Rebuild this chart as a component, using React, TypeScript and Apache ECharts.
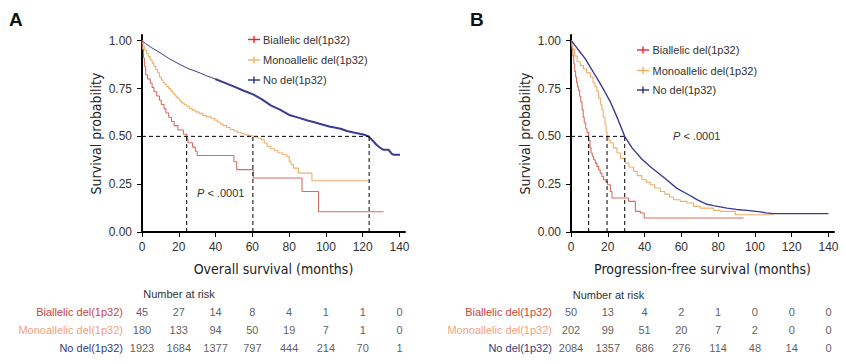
import React, { useEffect, useRef } from "react";
import * as echarts from "echarts";

// ---------- data ----------
const groups = ["Biallelic del(1p32)", "Monoallelic del(1p32)", "No del(1p32)"];
const xTicks = [0, 20, 40, 60, 80, 100, 120, 140];
const yTicks = [0, 0.25, 0.5, 0.75, 1];

// Overall survival (panel A)
const osBi: number[][] = [
  [0, 1], [0.3, 0.956], [0.8, 0.911], [1.3, 0.867], [2, 0.822], [3, 0.8], [4.5, 0.778], [5.5, 0.756],
  [6.5, 0.733], [8, 0.711], [9.5, 0.689], [10.5, 0.667], [12, 0.644], [13, 0.622], [14.5, 0.6],
  [16, 0.578], [17.5, 0.556], [19.5, 0.533], [22.5, 0.511], [24.3, 0.489], [25, 0.467], [27.5, 0.444],
  [29, 0.422], [30, 0.4], [50, 0.367], [51.5, 0.326], [60.5, 0.282], [87, 0.212], [96, 0.106], [131.3, 0.106],
];
const osMono: number[][] = [
  [0, 1], [0.5, 0.983], [1, 0.967], [1.5, 0.95], [2.5, 0.933], [3.5, 0.917], [4.5, 0.9], [5.5, 0.883],
  [6.5, 0.866], [7.5, 0.85], [8.5, 0.833], [9.5, 0.81], [10.5, 0.795], [11.5, 0.78], [12.5, 0.77],
  [13.5, 0.76], [14.5, 0.75], [15.5, 0.74], [16.5, 0.728], [17.5, 0.716], [18.5, 0.705], [19.5, 0.695],
  [20.5, 0.685], [21.5, 0.675], [23, 0.665], [24.5, 0.655], [26, 0.645], [27.5, 0.637], [29, 0.628],
  [31, 0.62], [33, 0.61], [35, 0.602], [37.5, 0.595], [39.5, 0.585], [41, 0.575], [42.5, 0.565],
  [44, 0.556], [46, 0.546], [48, 0.536], [50, 0.528], [52, 0.52], [54, 0.514], [56, 0.508], [58, 0.503],
  [60.3, 0.497], [63, 0.49], [65, 0.482], [66.5, 0.465], [68, 0.447], [70, 0.435], [72, 0.425],
  [74, 0.413], [76.5, 0.404], [78.8, 0.395], [80, 0.37], [81, 0.352], [82.4, 0.334], [85, 0.308],
  [92.4, 0.268], [123.2, 0.268],
];
const osNo: number[][] = [
  [0, 1], [2, 0.985], [5, 0.965], [10, 0.936], [15, 0.905], [20.8, 0.875], [25, 0.855], [31.7, 0.831],
  [35, 0.817], [39.8, 0.8], [45, 0.78], [49.8, 0.761], [55, 0.74], [60.7, 0.718], [65, 0.695],
  [70, 0.662], [75, 0.64], [80, 0.612], [85, 0.598], [90, 0.583], [93.3, 0.575], [97, 0.565],
  [102.3, 0.55], [104, 0.548], [108, 0.54], [111.4, 0.528], [115, 0.52], [120.4, 0.51], [123.2, 0.5],
  [125.9, 0.473], [127.6, 0.455], [129.5, 0.44], [131.3, 0.43], [134, 0.43], [135.9, 0.408],
  [137, 0.404], [140.3, 0.404],
];

// Progression-free survival (panel B)
const pfsBi: number[][] = [
  [0, 1], [0.5, 0.96], [1, 0.92], [1.5, 0.88], [2, 0.84], [2.5, 0.81], [3, 0.78], [3.5, 0.76], [4, 0.74],
  [4.7, 0.71], [5.3, 0.68], [6, 0.64], [6.6, 0.6], [7.2, 0.57], [8, 0.54], [8.7, 0.52], [9.6, 0.48],
  [10.3, 0.44], [10.9, 0.413], [11.6, 0.395], [12.3, 0.378], [13.2, 0.36], [14.1, 0.343], [15, 0.325],
  [15.9, 0.308], [16.8, 0.29], [17.7, 0.273], [19, 0.26], [19.9, 0.247], [21.4, 0.212], [22.3, 0.178],
  [31.3, 0.16], [35, 0.108], [37.7, 0.099], [39.8, 0.073], [93.8, 0.073],
];
const pfsMono: number[][] = [
  [0, 1], [0.5, 0.975], [1, 0.955], [2, 0.92], [3.3, 0.89], [5, 0.87], [6.8, 0.852], [8.5, 0.832],
  [10.5, 0.81], [12, 0.78], [13, 0.76], [14.1, 0.735], [15, 0.7], [16, 0.665], [16.8, 0.639],
  [17.5, 0.6], [18.5, 0.56], [19.1, 0.52], [19.6, 0.5], [20.5, 0.48], [21.4, 0.465], [23, 0.44],
  [25, 0.413], [27, 0.385], [29.5, 0.36], [31.5, 0.34], [34, 0.317], [36, 0.295], [38.6, 0.273],
  [41, 0.26], [43.1, 0.247], [45.5, 0.23], [48.5, 0.212], [51, 0.198], [53.5, 0.183], [55.8, 0.169],
  [59.4, 0.16], [63, 0.152], [66.6, 0.134], [70.3, 0.125], [77.5, 0.113], [81.1, 0.108], [89.3, 0.09],
  [110.1, 0.09],
];
const pfsNo: number[][] = [
  [0, 1], [1, 0.99], [3, 0.965], [5, 0.94], [7.8, 0.905], [10, 0.87], [12.5, 0.83], [15, 0.79],
  [18, 0.74], [21.4, 0.68], [25.5, 0.59], [29.2, 0.5], [33.2, 0.44], [38.6, 0.38], [44, 0.335],
  [51.2, 0.28], [57.6, 0.228], [63, 0.2], [68.5, 0.169], [73.9, 0.145], [77.5, 0.138], [84.8, 0.125],
  [90, 0.118], [95.7, 0.113], [102.9, 0.105], [106, 0.1], [110, 0.096], [140, 0.096],
];

const medianOS = [24.3, 60.3, 123.5];
const medianPFS = [9.6, 19.6, 29.2];

// Number at risk
const riskOSBi = [45, 27, 14, 8, 4, 1, 1, 0];
const riskOSMono = [180, 133, 94, 50, 19, 7, 1, 0];
const riskOSNo = [1923, 1684, 1377, 797, 444, 214, 70, 1];
const riskPFSBi = [50, 13, 4, 2, 1, 0, 0, 0];
const riskPFSMono = [202, 99, 51, 20, 7, 2, 0, 0];
const riskPFSNo = [2084, 1357, 686, 276, 114, 48, 14, 0];

// ---------- style ----------
const curveColors = ["#d6705e", "#ebb06a", "#3b3b8f"];
const legendColors = ["#e8262b", "#f2b05a", "#2e2e80"];
const rowColors = ["#c8453a", "#f2a27e", "#3a3a7a"];
const FONT = "'Liberation Sans', Arial, sans-serif";
const NARROW = "'Liberation Sans Narrow', 'DejaVu Sans Condensed', sans-serif";
const TXT = "#333";

const XMAX = 143;
const YMAX = 1.03;
const gridA = { left: 142, top: 35, width: 263, height: 197 };
const gridB = { left: 571, top: 35, width: 263, height: 197 };
const tableA = { left: 142, top: 303, width: 263, height: 54 };
const tableB = { left: 571, top: 303, width: 263, height: 54 };

function plotXAxis(gi: number, name: string) {
  return {
    type: "value", gridIndex: gi, min: 0, max: XMAX,
    name, nameLocation: "middle", nameGap: 30,
    nameTextStyle: { fontFamily: NARROW, fontSize: 14, color: "#222" },
    axisLine: { show: true, lineStyle: { color: "#000", width: 2 } },
    axisTick: { show: true, length: 5, customValues: xTicks, lineStyle: { color: "#000", width: 1 } },
    axisLabel: { customValues: xTicks, margin: 9, fontFamily: FONT, fontSize: 12, color: TXT },
    splitLine: { show: false },
  };
}
function plotYAxis(gi: number) {
  return {
    type: "value", gridIndex: gi, min: 0, max: YMAX,
    name: "Survival probability", nameLocation: "middle", nameGap: 39,
    nameTextStyle: { fontFamily: NARROW, fontSize: 14, color: "#222" },
    axisLine: { show: true, lineStyle: { color: "#000", width: 2 } },
    axisTick: { show: true, length: 5, customValues: yTicks, lineStyle: { color: "#000", width: 1 } },
    axisLabel: {
      customValues: yTicks, margin: 10, fontFamily: FONT, fontSize: 12, color: TXT,
      formatter: (v: number) => v.toFixed(2),
    },
    splitLine: { show: false },
  };
}
function tableXAxis(gi: number) {
  return { type: "value", gridIndex: gi, min: 0, max: XMAX, show: false };
}
function tableYAxis(gi: number) {
  return {
    type: "category", gridIndex: gi, data: groups, inverse: true,
    axisLine: { show: false }, axisTick: { show: false }, splitLine: { show: false },
    axisLabel: {
      margin: 19, fontFamily: FONT, fontSize: 11,
      color: (_v: string, i: number) => rowColors[i],
    },
  };
}

function kmSeries(data: number[][], ai: number, ci: number, step: boolean, width = 1.1) {
  return {
    type: "line", name: groups[ci], xAxisIndex: ai, yAxisIndex: ai, data,
    step: step ? "end" : false, symbol: "none", silent: true,
    lineStyle: { color: curveColors[ci], width },
  };
}
function dashSeries(pts: number[][], ai: number) {
  return {
    type: "line", xAxisIndex: ai, yAxisIndex: ai, data: pts, symbol: "none", silent: true,
    lineStyle: { color: "#000", width: 1, type: [4, 3] }, z: 5,
  };
}
function medianLines(med: number[], ai: number) {
  const out: any[] = [dashSeries([[0, 0.5], [Math.max(...med), 0.5]], ai)];
  med.forEach((m) => out.push(dashSeries([[m, 0], [m, 0.5]], ai)));
  return out;
}
function riskSeries(rows: number[][], ai: number) {
  const data: any[] = [];
  rows.forEach((r, g) => r.forEach((v, i) => data.push([xTicks[i], groups[g], v])));
  return {
    type: "scatter", xAxisIndex: ai, yAxisIndex: ai, data, symbolSize: 1, silent: true,
    itemStyle: { color: "rgba(0,0,0,0)" },
    label: {
      show: true, position: "inside", formatter: (p: any) => String(p.value[2]),
      fontFamily: FONT, fontSize: 11, color: TXT,
    },
  };
}

function legendGraphic(cx: number, tx: number, rows: number[]) {
  const els: any[] = [];
  groups.forEach((g, i) => {
    const cy = rows[i];
    els.push({ type: "line", shape: { x1: cx - 6, y1: cy, x2: cx + 6, y2: cy }, style: { stroke: legendColors[i], lineWidth: 1.4 } });
    els.push({ type: "line", shape: { x1: cx, y1: cy - 3.5, x2: cx, y2: cy + 3.5 }, style: { stroke: legendColors[i], lineWidth: 1.4 } });
    els.push({ type: "text", x: tx, y: cy, style: { text: g, fill: TXT, fontFamily: FONT, fontSize: 11, align: "left", verticalAlign: "middle" } });
  });
  return els;
}

export default function App() {
  const ref = useRef<HTMLDivElement>(null);
  useEffect(() => {
    if (!ref.current) return;
    const chart = echarts.init(ref.current, undefined, { renderer: "svg" });
    const option: any = {
      animation: false,
      backgroundColor: "#fff",
      grid: [
        { ...gridA, containLabel: false },
        { ...gridB, containLabel: false },
        { ...tableA, containLabel: false },
        { ...tableB, containLabel: false },
      ],
      xAxis: [
        plotXAxis(0, "Overall survival (months)"),
        plotXAxis(1, "Progression-free survival (months)"),
        tableXAxis(2),
        tableXAxis(3),
      ],
      yAxis: [plotYAxis(0), plotYAxis(1), tableYAxis(2), tableYAxis(3)],
      series: [
        ...medianLines(medianOS, 0),
        ...medianLines(medianPFS, 1),
        kmSeries(osBi, 0, 0, true),
        kmSeries(osMono, 0, 1, true),
        kmSeries(osNo.filter((p) => p[0] <= 39.8), 0, 2, false, 1),
        kmSeries(osNo.filter((p) => p[0] >= 39.8), 0, 2, false, 2),
        kmSeries(pfsBi, 1, 0, true),
        kmSeries(pfsMono, 1, 1, true),
        kmSeries(pfsNo, 1, 2, false, 1.4),
        riskSeries([riskOSBi, riskOSMono, riskOSNo], 2),
        riskSeries([riskPFSBi, riskPFSMono, riskPFSNo], 3),
      ],
      graphic: [
        { type: "text", x: 9, y: 10, style: { text: "A", fill: "#111", fontFamily: FONT, fontSize: 19, fontWeight: "bold" } },
        { type: "text", x: 470, y: 10, style: { text: "B", fill: "#111", fontFamily: FONT, fontSize: 19, fontWeight: "bold" } },
        {
          type: "text", x: 197, y: 193,
          style: { text: "{i|P} < .0001", fill: TXT, fontFamily: FONT, fontSize: 11, verticalAlign: "middle", rich: { i: { fontStyle: "italic", fontFamily: FONT, fontSize: 11, fill: TXT } } },
        },
        {
          type: "text", x: 673, y: 136,
          style: { text: "{i|P} < .0001", fill: TXT, fontFamily: FONT, fontSize: 11, verticalAlign: "middle", rich: { i: { fontStyle: "italic", fontFamily: FONT, fontSize: 11, fill: TXT } } },
        },
        { type: "text", x: 179, y: 294, style: { text: "Number at risk", fill: TXT, fontFamily: FONT, fontSize: 11, align: "center", verticalAlign: "middle" } },
        { type: "text", x: 608.5, y: 295, style: { text: "Number at risk", fill: TXT, fontFamily: FONT, fontSize: 11, align: "center", verticalAlign: "middle" } },
        ...legendGraphic(254, 263, [39.5, 60, 80]),
        ...legendGraphic(643, 652.5, [50, 70.5, 90]),
      ],
    };
    chart.setOption(option);
    return () => chart.dispose();
  }, []);
  return (
    <div
      ref={ref}
      style={{ position: "fixed", left: 0, top: 0, width: 846, height: 364, background: "#fff" }}
    />
  );
}
